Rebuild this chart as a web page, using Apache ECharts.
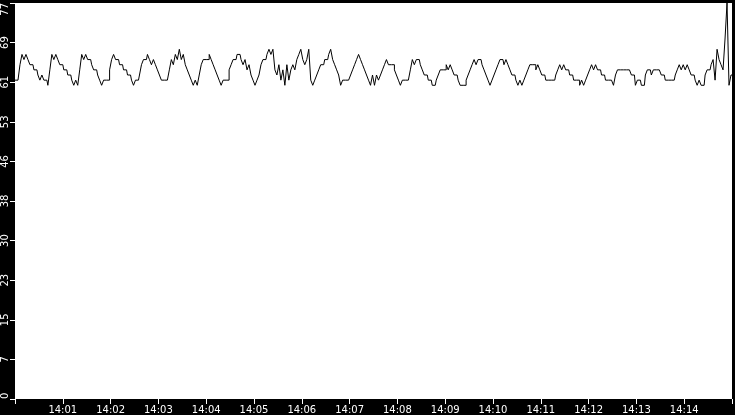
<!DOCTYPE html>
<html>
<head>
<meta charset="utf-8">
<script src="https://cdn.jsdelivr.net/npm/echarts@6/dist/echarts.min.js"></script>
<style>
html,body{margin:0;padding:0;background:#000;}
#chart{width:735px;height:415px;}
</style>
</head>
<body>
<div id="chart"></div>
<script>
// Samples every 2.5 s starting at 14:00:00
const sampleStepSeconds = 2.5;
const startHour = 14;
const values = [
62,62,62,65,67,66,67,66,65,65,64,64,63,62,63,62,62,61,
64,67,66,67,66,65,65,64,64,63,63,62,61,62,61,
64,67,66,67,66,66,65,64,64,63,62,61,62,62,62,
64,66,67,66,66,65,65,64,64,63,63,62,61,
62,62,63,65,66,66,67,66,65,66,65,64,63,62,62,62,62,
64,66,65,67,66,68,66,67,65,64,63,62,61,62,61,
63,65,66,66,66,67,66,65,64,63,62,61,62,62,62,
64,65,66,66,67,67,66,65,66,64,65,63,
62,61,62,63,65,66,66,67,68,67,68,64,63,65,62,64,61,65,62,64,65,64,66,67,68,66,65,66,68,62,61,
62,63,64,65,65,66,66,67,68,66,65,64,63,61,62,62,62,62,
63,64,65,66,67,66,65,64,63,62,61,
63,61,63,62,63,64,65,66,65,65,65,64,63,62,61,62,62,62,62,
64,66,65,66,66,65,64,63,63,62,62,61,61,62,
63,64,64,64,65,64,65,64,63,63,62,61,61,61,62,
63,64,65,66,65,66,66,65,64,63,62,61,
62,63,64,65,66,66,65,66,65,64,63,63,62,61,62,61,62,
63,64,65,65,65,64,65,64,63,63,62,62,62,62,62,
63,64,65,64,65,64,64,63,63,62,62,62,61,62,61,
62,63,64,65,64,65,64,64,63,63,62,62,
62,62,61,63,64,64,64,64,64,64,64,63,63,61,62,62,61,61,
63,64,64,63,64,64,64,64,63,63,62,62,62,62,62,
63,64,65,64,65,64,65,64,63,63,62,61,62,61,61,
63,64,64,65,66,62,68,66,65,64,70,77,61,63
];
const xTickLabels = ['14:01','14:02','14:03','14:04','14:05','14:06','14:07','14:08','14:09','14:10','14:11','14:12','14:13','14:14'];
const yTickLabels = ['0','7','15','23','30','38','46','53','61','69','77'];

const seriesData = values.map((v, i) => [i * sampleStepSeconds, v]);

const chart = echarts.init(document.getElementById('chart'), null, {renderer: 'canvas'});
chart.setOption({
  animation: false,
  backgroundColor: '#000',
  grid: {left: 15, right: 0, top: 0, bottom: 16, show: true, backgroundColor: '#fff', borderWidth: 0, containLabel: false},
  xAxis: {
    type: 'value', min: 0, max: 900, interval: 60,
    axisLine: {show: false},
    axisTick: {show: true, length: 5, lineStyle: {color: '#fff', width: 1}},
    splitLine: {show: false},
    axisLabel: {
      color: '#fff', fontFamily: 'DejaVu Sans', fontSize: 10, margin: 6,
      formatter: function (v) { const m = Math.round(v / 60); return (m >= 1 && m <= xTickLabels.length) ? xTickLabels[m - 1] : ''; }
    }
  },
  yAxis: {
    type: 'value', min: 0, max: 77, interval: 7.7,
    axisLine: {show: false},
    axisTick: {show: true, length: 5, lineStyle: {color: '#fff', width: 1}},
    splitLine: {show: false},
    axisLabel: {
      color: '#fff', fontFamily: 'DejaVu Sans', fontSize: 10, rotate: 90, margin: 5,
      alignMinLabel: 'left', alignMaxLabel: 'right',
      formatter: function (v) { return yTickLabels[Math.round(v / 7.7)]; }
    }
  },
  series: [{
    type: 'line', data: seriesData, showSymbol: false, symbol: 'none', step: 'middle',
    lineStyle: {color: '#000', width: 1}
  }]
});
</script>
</body>
</html>
